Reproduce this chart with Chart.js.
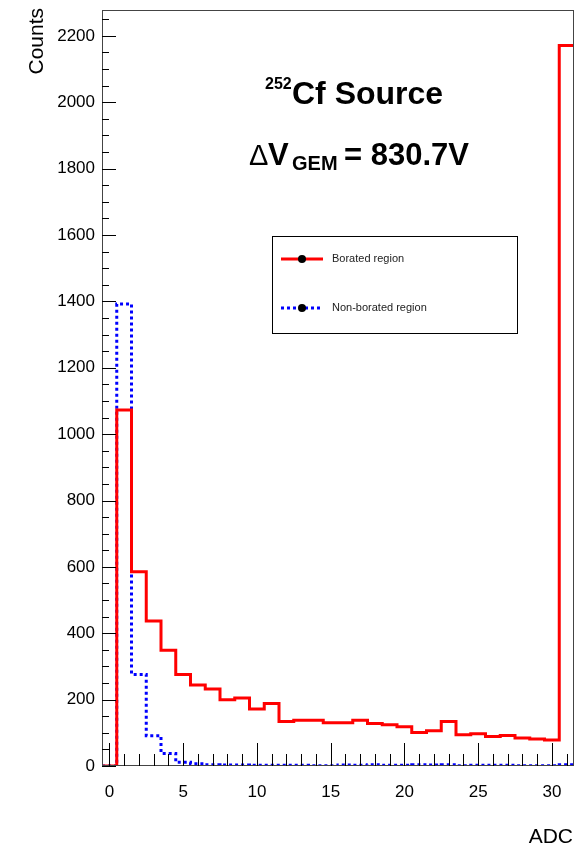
<!DOCTYPE html>
<html>
<head>
<meta charset="utf-8">
<script src="https://cdn.jsdelivr.net/npm/chart.js"></script>
<style>
  body { margin: 0; background: #fff; }
  #wrap { width: 578px; height: 847px; }
</style>
</head>
<body>
<div id="wrap"><canvas id="adcHisto" width="578" height="847"></canvas></div>
<script>
// --- data (one bin per ADC channel) ---
const adcBins = [0,1,2,3,4,5,6,7,8,9,10,11,12,13,14,15,16,17,18,19,20,21,22,23,24,25,26,27,28,29,30,31];
const boratedCounts = [0,1073,585,437,349,276,244,232,200,205,172,188,134,138,138,130,130,138,128,124,118,101,106,134,94,97,89,92,84,81,78,2171];
const nonBoratedCounts = [0,1392,276,91,38,11,7,4,3,3,2,2,2,2,1,1,3,2,4,2,2,4,3,4,1,2,2,2,1,1,1,4];
const xTickLabels = [0,5,10,15,20,25,30];
const yTickLabels = [0,200,400,600,800,1000,1200,1400,1600,1800,2000,2200];

const FONT = "'Liberation Sans', Arial, Helvetica, sans-serif";
Chart.defaults.font.family = FONT;

// histogram outline: each bin gives a flat segment from low edge to high edge
function histPoints(counts) {
  const pts = [];
  adcBins.forEach((b, i) => {
    pts.push({ x: b - 0.5, y: counts[i] });
    pts.push({ x: b + 0.5, y: counts[i] });
  });
  return pts;
}

/* === ROOT-like frame, inner ticks, legend and labels === */
const rootStyle = {
  id: "rootStyle",
  afterDatasetsDraw(chart) {
    const { ctx, chartArea: a, scales: { x, y } } = chart;
    ctx.save();
    // frame
    ctx.strokeStyle = "#444";
    ctx.lineWidth = 1;
    ctx.strokeRect(a.left + 0.5, a.top + 0.5, a.right - a.left - 1, a.bottom - a.top - 1);

    // y ticks (major every 200, minor every 50)
    ctx.strokeStyle = "#000";
    ctx.beginPath();
    for (let v = 0; v <= y.max; v += 50) {
      const py = Math.round(y.getPixelForValue(v)) + 0.5;
      const len = v % 200 === 0 ? 14 : 7;
      ctx.moveTo(a.left, py);
      ctx.lineTo(a.left + len, py);
    }
    // x ticks (major every 5, minor every 1)
    for (let v = 0; v <= x.max; v += 1) {
      const px = Math.round(x.getPixelForValue(v)) + 0.5;
      const len = v % 5 === 0 ? 23 : 12;
      ctx.moveTo(px, a.bottom);
      ctx.lineTo(px, a.bottom - len);
    }
    ctx.stroke();

    // legend box
    ctx.fillStyle = "#fff";
    ctx.fillRect(272, 236, 245, 97);
    ctx.strokeStyle = "#000";
    ctx.strokeRect(272.5, 236.5, 245, 97);

    const entries = [
      { label: chart.data.datasets[0].label, color: "#ff0000", dash: [], y: 259 },
      { label: chart.data.datasets[1].label, color: "#0000ff", dash: [3, 3], y: 308 }
    ];
    entries.forEach((e) => {
      ctx.beginPath();
      ctx.setLineDash(e.dash);
      ctx.strokeStyle = e.color;
      ctx.lineWidth = 3;
      ctx.moveTo(281, e.y);
      ctx.lineTo(323, e.y);
      ctx.stroke();
      ctx.setLineDash([]);
      ctx.beginPath();
      ctx.fillStyle = "#000";
      ctx.arc(302, e.y, 4, 0, Math.PI * 2);
      ctx.fill();
      ctx.fillStyle = "#222";
      ctx.font = "11px " + FONT;
      ctx.textBaseline = "middle";
      ctx.textAlign = "left";
      ctx.fillText(e.label, 332, e.y);
    });
    ctx.restore();
  },
  afterDraw(chart) {
    const { ctx } = chart;
    ctx.save();
    ctx.fillStyle = "#000";
    ctx.textBaseline = "alphabetic";

    // axis titles
    ctx.font = "21px " + FONT;
    ctx.textAlign = "right";
    ctx.fillText("ADC", 573, 843);
    ctx.save();
    ctx.translate(43, 8);
    ctx.rotate(-Math.PI / 2);
    ctx.fillText("Counts", 0, 0);
    ctx.restore();

    // title lines
    ctx.textAlign = "left";
    ctx.font = "bold 16px " + FONT;
    ctx.fillText("252", 265, 89);
    ctx.font = "bold 32px " + FONT;
    ctx.fillText("Cf Source", 292, 104);

    ctx.font = "29px " + FONT;
    ctx.fillText("\u0394", 249, 165);
    ctx.font = "bold 31px " + FONT;
    ctx.fillText("V", 268, 165);
    ctx.font = "bold 20px " + FONT;
    ctx.fillText("GEM", 292, 170);
    ctx.font = "bold 31px " + FONT;
    ctx.fillText("= 830.7V", 344, 165);
    ctx.restore();
  }
};

const ctx = document.getElementById("adcHisto").getContext("2d");
new Chart(ctx, {
  type: "line",
  data: {
    datasets: [
      {
        label: "Borated region",
        data: histPoints(boratedCounts),
        borderColor: "#ff0000",
        borderWidth: 3,
        pointRadius: 0,
        fill: false,
        tension: 0
      },
      {
        label: "Non-borated region",
        data: histPoints(nonBoratedCounts),
        borderColor: "#0000ff",
        borderWidth: 3,
        borderDash: [3, 3],
        pointRadius: 0,
        fill: false,
        tension: 0
      }
    ]
  },
  options: {
    responsive: false,
    animation: false,
    layout: { padding: { left: 0, right: 4, top: 10, bottom: 0 } },
    plugins: { legend: { display: false }, tooltip: { enabled: false } },
    scales: {
      x: {
        type: "linear",
        min: -0.5,
        max: 31.5,
        grid: { display: false, drawTicks: false },
        border: { display: false },
        afterBuildTicks: (s) => { s.ticks = xTickLabels.map((v) => ({ value: v })); },
        afterFit: (s) => { s.height = 81; s.paddingLeft = 0; s.paddingRight = 0; },
        ticks: { color: "#000", font: { size: 17 }, padding: 16, maxRotation: 0, autoSkip: false,
                 callback: (v) => String(v) }
      },
      y: {
        type: "linear",
        min: 0,
        max: 2278,
        grid: { display: false, drawTicks: false },
        border: { display: false },
        afterBuildTicks: (s) => { s.ticks = yTickLabels.map((v) => ({ value: v })); },
        afterFit: (s) => { s.width = 102; s.paddingTop = 0; s.paddingBottom = 0; },
        ticks: { color: "#000", font: { size: 17 }, padding: 7, autoSkip: false,
                 callback: (v) => String(v) }
      }
    }
  },
  plugins: [rootStyle]
});
</script>
</body>
</html>
